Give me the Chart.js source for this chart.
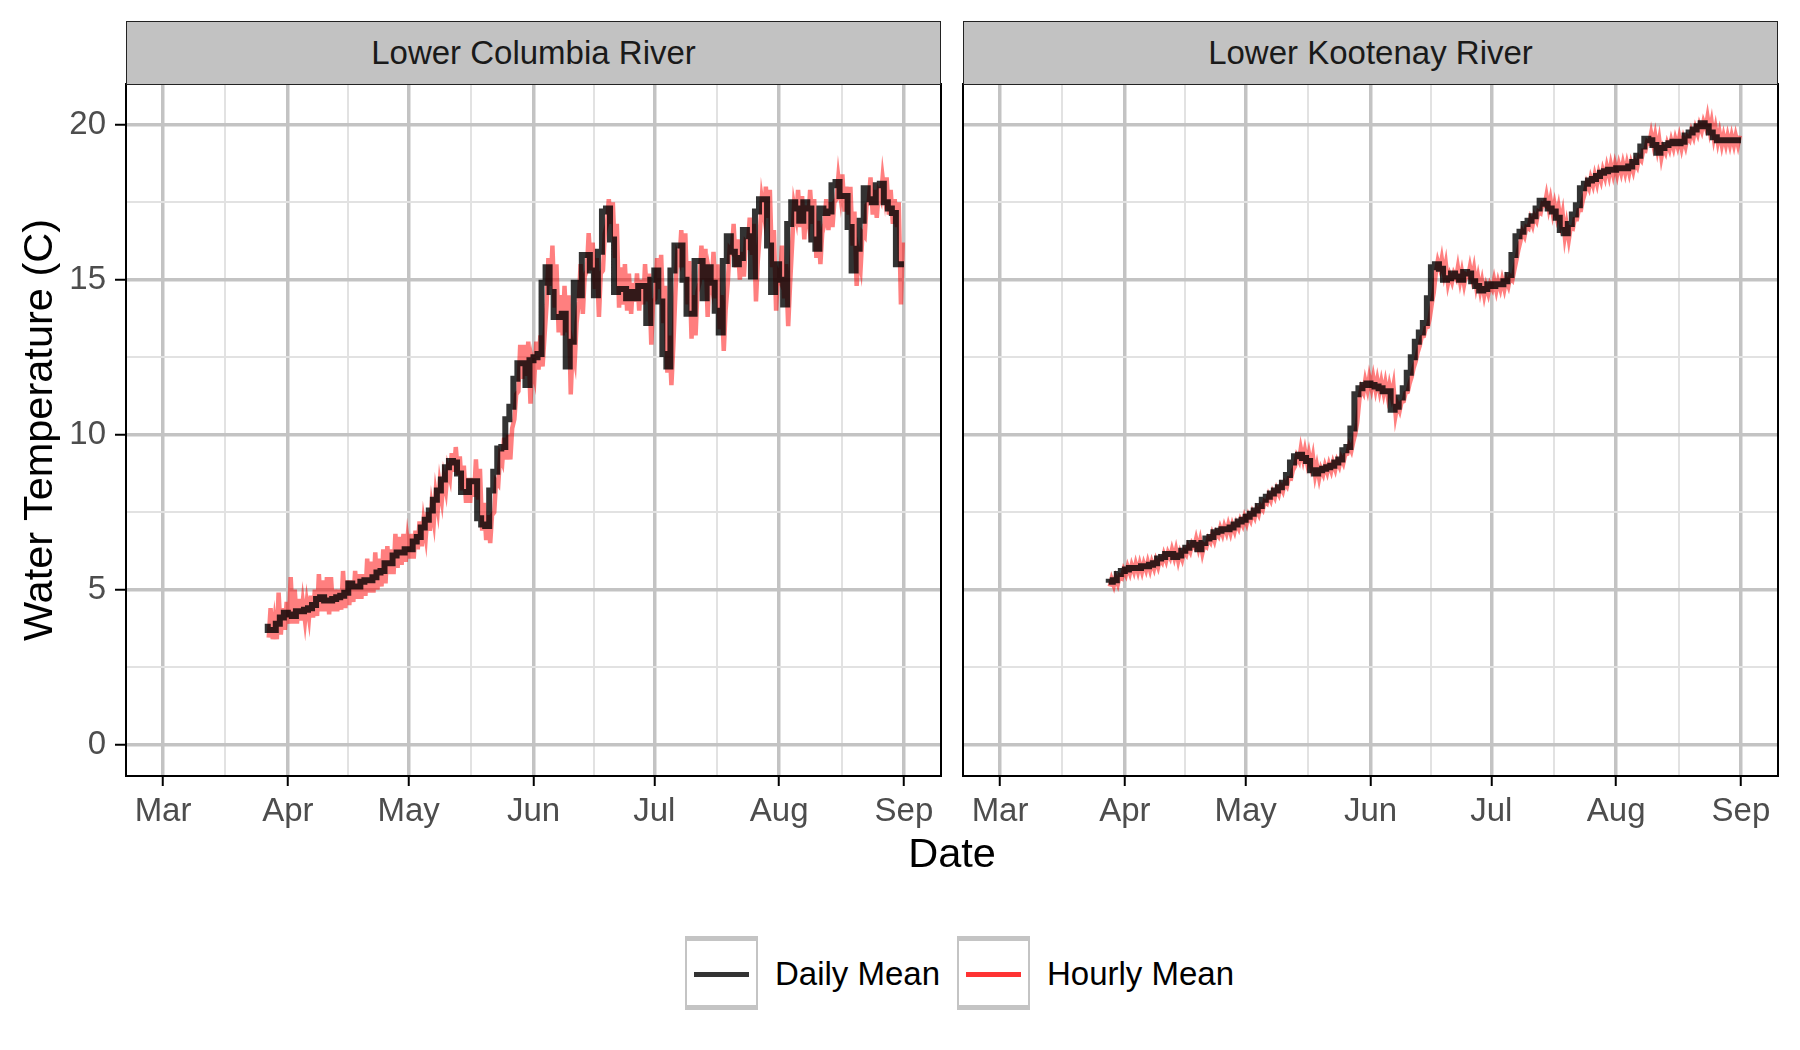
<!DOCTYPE html>
<html>
<head>
<meta charset="utf-8">
<script src="https://cdn.jsdelivr.net/npm/chart.js@4.4.1/dist/chart.umd.min.js"></script>
<style>
  body { margin: 0; background: #fff; width: 1800px; height: 1050px; position: relative; overflow: hidden;
         font-family: "Liberation Sans", Arial, sans-serif; }
  canvas { position: absolute; }
  .strip { position: absolute; top: 21px; height: 64px; width: 815px; box-sizing: border-box;
           background: #C2C2C2; border: 1.5px solid #222; color: #1A1A1A; font-size: 33px;
           display: flex; align-items: center; justify-content: center; }
  .ytitle { position: absolute; left: -312px; top: 405px; width: 700px; height: 50px; line-height: 50px;
            text-align: center; font-size: 41.5px; color: #000; transform: rotate(-90deg); }
  .xtitle { position: absolute; left: 752px; width: 400px; top: 832px; line-height: 41.5px;
            text-align: center; font-size: 41.5px; color: #000; }
  .key { position: absolute; top: 936px; width: 73px; height: 74px; box-sizing: border-box;
         border: 2px solid #C4C4C4; border-top-width: 5px; border-bottom-width: 5px; background: #fff; }
  .key span { position: absolute; left: 7px; right: 7px; top: 31px; height: 5px; }
  .ltext { position: absolute; top: 957px; font-size: 33px; line-height: 33px; color: #000; }
</style>
</head>
<body>
<canvas id="colChart" width="946" height="802" style="left:0px;top:44px"></canvas>
<canvas id="kooChart" width="840" height="802" style="left:943px;top:44px"></canvas>
<div class="strip" style="left:126px">Lower Columbia River</div>
<div class="strip" style="left:963px">Lower Kootenay River</div>
<div class="ytitle">Water Temperature (C)</div>
<div class="xtitle">Date</div>
<div class="key" style="left:685px"><span style="background:#333"></span></div>
<div class="ltext" style="left:775px">Daily Mean</div>
<div class="key" style="left:957px"><span style="background:#FF3333"></span></div>
<div class="ltext" style="left:1047px">Hourly Mean</div>

<script>
// x positions are days since Mar 1
const monthDays = [0, 31, 61, 92, 122, 153, 184];
const monthLabels = ['Mar', 'Apr', 'May', 'Jun', 'Jul', 'Aug', 'Sep'];
const minorDays = [15.5, 46, 76.5, 107, 137.5, 168.5];
const yMajor = [0, 5, 10, 15, 20];
const yMinor = [2.5, 7.5, 12.5, 17.5];

// Lower Columbia River, daily mean from Mar 27 (day 26)
const colStart = 26;
const colDaily = [
  3.9, 3.7, 3.7, 3.9, 4.1, 4.25, 4.2, 4.15, 4.3, 4.3,
  4.35, 4.4, 4.5, 4.7, 4.75, 4.65, 4.65, 4.7, 4.75, 4.8,
  4.9, 5.2, 5.1, 5.1, 5.25, 5.3, 5.3, 5.4, 5.55, 5.6,
  5.85, 5.85, 6.1, 6.2, 6.2, 6.3, 6.3, 6.55, 6.7, 7.0,
  7.25, 7.55, 7.9, 8.2, 8.55, 8.95, 9.15, 9.1, 8.75, 8.15,
  8.15, 8.5, 8.5, 7.3, 7.1, 7.05, 8.2, 8.8, 9.55, 9.6,
  10.5, 10.9, 11.8, 12.3, 12.3, 11.6, 12.4, 12.5, 12.6, 14.9,
  15.4, 14.6, 13.8, 13.8, 13.9, 12.2, 13.0, 14.9, 14.5, 15.8,
  15.8, 15.3, 14.5, 15.9, 17.2, 17.3, 16.3, 14.6, 14.7, 14.7,
  14.4, 14.6, 14.4, 14.8, 14.8, 13.6, 15.0, 15.3, 14.3, 12.6,
  12.2, 15.3, 16.1, 16.1, 15.0, 13.9, 13.9, 15.6, 15.6, 14.4,
  15.4, 14.9, 14.0, 13.3, 15.6, 16.4, 15.9, 15.5, 15.7, 16.6,
  16.4, 15.1, 17.2, 17.6, 17.6, 16.1, 14.6, 15.5, 15.0, 14.2,
  16.8, 17.5, 17.3, 16.9, 17.5, 17.3, 16.3, 16.0, 17.3, 17.15,
  17.2, 18.05, 18.15, 17.7, 17.7, 16.7, 15.3, 16.0, 16.9, 17.95,
  17.6, 17.5, 18.05, 18.1, 17.5, 17.3, 17.15, 15.5
];
// hourly mean: lowest and highest reading of each day
const colHourlyLow = [
  3.45, 3.4, 3.4, 3.55, 3.7, 3.9, 3.9, 3.9, 4.0, 4.0,
  4.1, 4.1, 4.15, 4.3, 4.3, 4.2, 4.3, 4.3, 4.35, 4.4,
  4.5, 4.6, 4.7, 4.7, 4.8, 4.9, 4.9, 5.0, 5.1, 5.2,
  5.5, 5.5, 5.7, 5.8, 5.9, 6.0, 6.0, 6.3, 6.4, 6.7,
  6.9, 7.2, 7.6, 7.9, 8.2, 8.6, 8.8, 8.7, 8.2, 7.8,
  7.8, 8.0, 7.9, 6.9, 6.6, 6.5, 7.5, 8.4, 9.1, 9.2,
  9.2, 10.5, 11.4, 11.8, 11.9, 11.0, 11.9, 12.1, 12.2, 14.2,
  14.8, 14.1, 13.3, 13.2, 13.3, 11.3, 12.4, 14.3, 13.9, 15.3,
  15.3, 14.7, 13.8, 15.3, 16.8, 16.8, 15.7, 14.1, 14.2, 14.0,
  13.9, 14.3, 14.0, 14.2, 14.3, 12.9, 14.4, 14.7, 13.6, 12.0,
  11.6, 14.6, 15.6, 15.4, 14.2, 13.1, 13.2, 14.9, 15.0, 13.8,
  14.8, 14.4, 13.4, 12.7, 14.9, 15.9, 15.4, 15.0, 15.1, 16.1,
  15.8, 14.3, 16.6, 17.1, 17.0, 15.4, 14.0, 15.0, 14.4, 13.5,
  16.2, 17.0, 16.7, 16.3, 16.9, 16.8, 15.7, 15.5, 16.8, 16.6,
  16.7, 17.6, 17.7, 17.2, 17.1, 16.1, 14.8, 15.4, 16.4, 17.5,
  17.1, 17.0, 17.6, 17.7, 17.1, 16.8, 16.7, 14.2
];
const colHourlyHigh = [
  4.4, 4.0, 4.9, 4.4, 4.6, 5.4, 5.0, 4.7, 4.6, 4.6,
  4.8, 5.0, 5.5, 5.3, 5.4, 5.4, 5.0, 5.0, 5.6, 5.3,
  5.3, 5.6, 5.5, 5.5, 6.0, 5.9, 6.2, 6.0, 6.3, 6.4,
  6.3, 6.8, 6.7, 6.8, 6.6, 6.8, 6.9, 7.2, 7.2, 7.5,
  7.7, 8.1, 8.4, 8.6, 8.9, 9.4, 9.6, 9.3, 9.0, 8.6,
  8.6, 9.2, 8.9, 7.8, 7.4, 7.4, 8.5, 9.3, 9.9, 10.0,
  10.2, 11.3, 12.9, 12.9, 13.0, 12.3, 13.0, 13.2, 13.1, 15.7,
  16.1, 15.5, 14.5, 14.8, 14.5, 12.8, 13.6, 15.5, 15.1, 16.5,
  16.2, 15.7, 15.2, 16.5, 17.6, 17.5, 16.8, 15.4, 15.5, 15.2,
  14.9, 15.2, 15.0, 15.5, 15.2, 14.3, 15.7, 15.8, 14.8, 13.2,
  12.8, 15.8, 16.6, 16.5, 15.6, 14.5, 14.6, 16.1, 16.0, 15.2,
  15.9, 15.5, 14.5, 14.0, 16.0, 16.8, 16.3, 15.9, 16.2, 17.0,
  16.8, 15.6, 17.6, 18.0, 17.9, 16.6, 15.2, 16.1, 15.5, 14.8,
  17.4, 17.9, 17.7, 17.4, 17.9, 17.6, 16.9, 16.5, 17.6, 17.5,
  17.5, 18.3, 18.4, 18.0, 18.0, 17.2, 15.8, 16.5, 17.4, 18.3,
  17.9, 17.8, 18.3, 18.3, 17.9, 17.6, 17.5, 16.2
];

// Lower Kootenay River, daily mean from Mar 28 (day 27)
const kooStart = 27;
const kooDaily = [
  5.22, 5.25, 5.3, 5.5, 5.6, 5.65, 5.7, 5.7, 5.7, 5.75,
  5.75, 5.8, 5.85, 6.0, 6.05, 6.15, 6.15, 6.05, 6.1, 6.25,
  6.35, 6.5, 6.45, 6.3, 6.5, 6.65, 6.7, 6.85, 6.9, 6.95,
  6.95, 7.0, 7.1, 7.2, 7.25, 7.35, 7.45, 7.55, 7.7, 7.9,
  8.0, 8.1, 8.2, 8.3, 8.45, 8.7, 9.1, 9.3, 9.35, 9.25,
  9.15, 8.85, 8.75, 8.85, 8.9, 8.95, 9.0, 9.1, 9.2, 9.5,
  9.6, 10.2, 11.3, 11.5, 11.6, 11.65, 11.6, 11.55, 11.5, 11.4,
  11.4, 10.8, 10.9, 11.2, 11.5, 12.0, 12.5, 13.0, 13.3, 13.6,
  14.4, 15.4, 15.5, 15.35, 15.0, 15.05, 15.2, 15.1, 15.0, 15.25,
  15.2, 14.95, 14.8, 14.65, 14.7, 14.85, 14.8, 14.85, 14.85, 14.95,
  15.15, 15.8, 16.4, 16.55, 16.8, 16.9, 17.05, 17.3, 17.55, 17.45,
  17.3, 17.2, 17.0, 16.6, 16.5, 16.8, 17.1, 17.4, 17.95, 18.1,
  18.2, 18.25, 18.35, 18.45, 18.5, 18.55, 18.55, 18.6, 18.6, 18.6,
  18.65, 18.8, 19.0, 19.3, 19.55, 19.5, 19.35, 19.1, 19.25, 19.35,
  19.4, 19.45, 19.4, 19.45, 19.65, 19.75, 19.85, 19.95, 20.05, 19.95,
  19.75, 19.6, 19.5, 19.5, 19.5, 19.5, 19.5
];
const kooHourlyLow = [
  5.1, 5.13, 5.18, 5.38, 5.48, 5.53, 5.58, 5.58, 5.58, 5.63,
  5.63, 5.68, 5.73, 5.88, 5.93, 6.03, 6.03, 5.93, 5.98, 6.13,
  6.23, 6.38, 6.33, 6.18, 6.38, 6.53, 6.58, 6.73, 6.78, 6.83,
  6.83, 6.88, 6.98, 7.08, 7.13, 7.23, 7.33, 7.43, 7.58, 7.78,
  7.88, 7.98, 8.08, 8.18, 8.33, 8.58, 8.98, 9.15, 9.2, 9.1,
  9.0, 8.7, 8.6, 8.72, 8.78, 8.83, 8.88, 8.98, 9.08, 9.38,
  9.48, 10.05, 11.15, 11.35, 11.45, 11.5, 11.45, 11.4, 11.35, 11.25,
  11.25, 10.65, 10.78, 11.08, 11.38, 11.88, 12.38, 12.88, 13.18, 13.48,
  14.25, 15.25, 15.35, 15.2, 14.88, 14.93, 15.05, 14.95, 14.85, 15.1,
  15.05, 14.8, 14.65, 14.5, 14.55, 14.7, 14.65, 14.7, 14.7, 14.8,
  15.0, 15.65, 16.25, 16.4, 16.65, 16.75, 16.9, 17.15, 17.4, 17.3,
  17.15, 17.05, 16.85, 16.4, 16.3, 16.65, 16.95, 17.25, 17.8, 17.95,
  18.05, 18.1, 18.2, 18.3, 18.35, 18.4, 18.4, 18.45, 18.45, 18.45,
  18.5, 18.65, 18.85, 19.15, 19.4, 19.35, 19.2, 18.95, 19.1, 19.2,
  19.25, 19.3, 19.25, 19.3, 19.5, 19.6, 19.7, 19.8, 19.9, 19.8,
  19.58, 19.45, 19.35, 19.35, 19.35, 19.35, 19.35
];
const kooHourlyHigh = [
  5.34, 5.38, 5.44, 5.64, 5.74, 5.79, 5.84, 5.84, 5.84, 5.89,
  5.89, 5.94, 5.99, 6.14, 6.19, 6.29, 6.29, 6.19, 6.24, 6.39,
  6.49, 6.64, 6.59, 6.44, 6.64, 6.79, 6.84, 6.99, 7.04, 7.09,
  7.09, 7.14, 7.24, 7.34, 7.39, 7.49, 7.59, 7.69, 7.84, 8.04,
  8.14, 8.24, 8.34, 8.44, 8.59, 8.84, 9.3, 9.55, 9.5, 9.4,
  9.3, 9.0, 8.9, 9.0, 9.05, 9.1, 9.15, 9.25, 9.35, 9.65,
  9.75, 10.4, 11.5, 11.75, 11.85, 11.85, 11.78, 11.72, 11.68, 11.6,
  11.58, 10.98, 11.05, 11.35, 11.65, 12.15, 12.65, 13.15, 13.45, 13.75,
  14.58, 15.6, 15.68, 15.52, 15.15, 15.2, 15.4, 15.26, 15.16, 15.42,
  15.36, 15.1, 14.95, 14.8, 14.85, 15.0, 14.95, 15.0, 15.0, 15.1,
  15.3, 15.95, 16.55, 16.7, 16.95, 17.05, 17.2, 17.45, 17.72, 17.6,
  17.45, 17.35, 17.15, 16.78, 16.68, 16.95, 17.25, 17.55, 18.12, 18.28,
  18.38, 18.44, 18.54, 18.65, 18.72, 18.72, 18.72, 18.76, 18.76, 18.76,
  18.8, 18.95, 19.16, 19.46, 19.72, 19.66, 19.52, 19.26, 19.4, 19.5,
  19.55, 19.6, 19.55, 19.6, 19.8, 19.9, 20.0, 20.1, 20.25, 20.1,
  19.9, 19.75, 19.65, 19.65, 19.65, 19.65, 19.65
];

const FONT = '"Liberation Sans", Arial, sans-serif';
const MAJOR_GRID = '#C3C3C3';
const MINOR_GRID = '#E2E2E2';

function dailyPoints(vals, start) {
  const pts = vals.map((v, i) => ({ x: start + i, y: v }));
  pts.push({ x: start + vals.length, y: vals[vals.length - 1] });
  return pts;
}

function hourlyPoints(lo, hi, start) {
  const pts = [];
  lo.forEach((v, i) => {
    pts.push({ x: start + i + 0.25, y: v });
    pts.push({ x: start + i + 0.7, y: hi[i] });
  });
  return pts;
}

const panelBorder = {
  id: 'panelBorder',
  afterDatasetsDraw(chart) {
    const { ctx, chartArea: a } = chart;
    ctx.save();
    ctx.strokeStyle = '#000';
    ctx.lineWidth = 2;
    ctx.strokeRect(a.left, a.top, a.right - a.left, a.bottom - a.top);
    ctx.restore();
  }
};

function makePanel(id, daily, start, lo, hi, showY, yWidth) {
  const xMajor = v => monthDays.includes(v);
  const yIsMajor = v => yMajor.includes(v);
  new Chart(document.getElementById(id), {
    type: 'line',
    data: {
      datasets: [
        {
          label: 'Daily Mean',
          data: dailyPoints(daily, start),
          stepped: 'after',
          borderColor: 'rgba(0,0,0,0.8)',
          borderWidth: 6,
          pointRadius: 0,
          fill: false
        },
        {
          label: 'Hourly Mean',
          data: hourlyPoints(lo, hi, start),
          borderColor: 'rgba(255,0,0,0.5)',
          borderWidth: 4.5,
          pointRadius: 0,
          tension: 0,
          fill: false
        }
      ]
    },
    options: {
      responsive: false,
      animation: false,
      devicePixelRatio: 1,
      // top padding larger than the half-height of the "20" label so the plot top is fixed
      layout: { padding: { top: 40, right: 5, left: 0, bottom: 0 } },
      plugins: { legend: { display: false }, tooltip: { enabled: false } },
      scales: {
        x: {
          type: 'linear',
          min: -9.2,
          max: 193.2,
          afterBuildTicks: s => { s.ticks = monthDays.concat(minorDays).sort((a, b) => a - b).map(v => ({ value: v })); },
          afterFit: s => { s.height = 70; },
          border: { display: false },
          grid: {
            color: c => xMajor(c.tick.value) ? MAJOR_GRID : MINOR_GRID,
            lineWidth: c => xMajor(c.tick.value) ? 3.5 : 2,
            tickColor: c => xMajor(c.tick.value) ? '#000' : 'rgba(0,0,0,0)',
            tickLength: 10,
            tickWidth: 2
          },
          ticks: {
            autoSkip: false,
            maxRotation: 0,
            padding: 6,
            color: '#4D4D4D',
            font: { family: FONT, size: 33 },
            callback: v => {
              const i = monthDays.indexOf(v);
              return i >= 0 ? monthLabels[i] : '';
            }
          }
        },
        y: {
          type: 'linear',
          min: -1.015,
          max: 21.315,
          afterBuildTicks: s => { s.ticks = yMajor.concat(yMinor).sort((a, b) => a - b).map(v => ({ value: v })); },
          afterFit: s => { s.width = yWidth; },
          border: { display: false },
          grid: {
            color: c => yIsMajor(c.tick.value) ? MAJOR_GRID : MINOR_GRID,
            lineWidth: c => yIsMajor(c.tick.value) ? 3.5 : 2,
            tickColor: c => yIsMajor(c.tick.value) ? '#000' : 'rgba(0,0,0,0)',
            drawTicks: showY,
            tickLength: 11,
            tickWidth: 2
          },
          ticks: {
            display: showY,
            padding: 9,
            color: '#4D4D4D',
            font: { family: FONT, size: 33 },
            callback: v => yIsMajor(v) ? String(v) : ''
          }
        }
      }
    },
    plugins: [panelBorder]
  });
}

makePanel('colChart', colDaily, colStart, colHourlyLow, colHourlyHigh, true, 126);
makePanel('kooChart', kooDaily, kooStart, kooHourlyLow, kooHourlyHigh, false, 20);
</script>
</body>
</html>
